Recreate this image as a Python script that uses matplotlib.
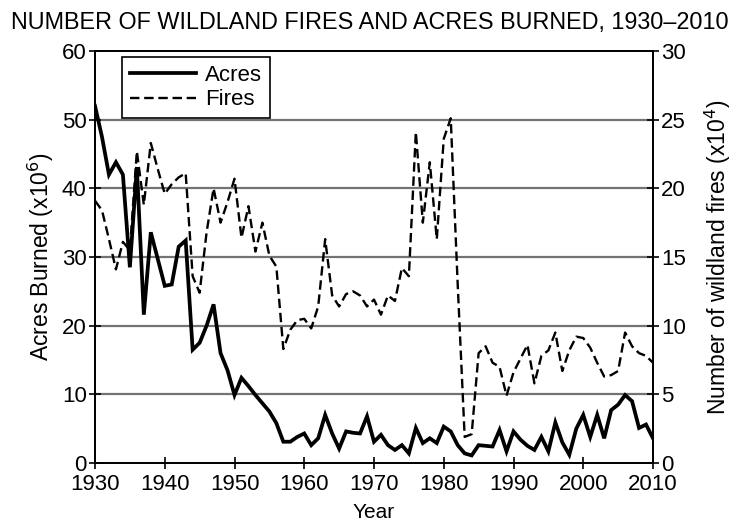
import matplotlib
matplotlib.use("Agg")
import matplotlib.pyplot as plt

plt.rcParams['font.family'] = ['Liberation Sans', 'DejaVu Sans']

years = list(range(1930, 2011))

# acres burned, millions
acres = [52.0, 47.5, 42.0, 43.8, 42.0, 28.5, 43.1, 21.6, 33.6, 29.7,
         25.8, 26.0, 31.5, 32.4, 16.5, 17.5, 20.0, 23.1, 16.0, 13.5,
         9.9, 12.4, 11.2, 9.9, 8.7, 7.5, 5.8, 3.1, 3.1, 3.8,
         4.3, 2.6, 3.6, 7.0, 4.3, 2.1, 4.6, 4.4, 4.3, 6.8,
         3.1, 4.1, 2.6, 1.9, 2.6, 1.4, 5.1, 2.9, 3.6, 2.9,
         5.3, 4.6, 2.6, 1.4, 1.1, 2.6, 2.5, 2.4, 4.8, 1.7,
         4.6, 3.4, 2.5, 1.9, 3.8, 1.7, 5.9, 3.0, 1.2, 5.0,
         7.0, 3.8, 7.0, 3.6, 7.7, 8.5, 9.9, 9.0, 5.1, 5.6,
         3.6]

# number of fires, x10^4
fires = [19.1, 18.4, 16.3, 14.1, 16.1, 15.5, 22.7, 18.8, 23.3, 21.4,
         19.6, 20.3, 20.8, 21.1, 13.6, 12.4, 16.8, 20.0, 17.5, 19.0,
         20.7, 16.4, 18.7, 15.4, 17.5, 15.1, 14.3, 8.3, 9.7, 10.4,
         10.5, 9.8, 11.4, 16.3, 12.2, 11.4, 12.3, 12.5, 12.2, 11.4,
         11.9, 10.8, 12.2, 11.8, 14.2, 13.6, 24.1, 17.5, 21.9, 16.3,
         23.6, 25.1, 13.0, 1.9, 2.1, 8.0, 8.5, 7.3, 7.0, 4.9,
         6.6, 7.6, 8.6, 5.8, 7.8, 8.2, 9.5, 6.7, 8.2, 9.2,
         9.1, 8.4, 7.3, 6.3, 6.4, 6.7, 9.5, 8.5, 8.0, 7.8,
         7.3]

fig = plt.figure(figsize=(7.4, 5.22), dpi=100)
ax = fig.add_axes([95 / 740, 1 - 463 / 522, 558 / 740, 412 / 522])
ax2 = ax.twinx()

for v in range(10, 60, 10):
    ax.axhline(v, color="0.45", lw=1.6, zorder=1)

l1, = ax.plot(years, acres, color="black", lw=2.7, solid_joinstyle="miter", zorder=3, label="Acres")
l2, = ax2.plot(years, fires, color="black", lw=1.7, dashes=(4, 2), zorder=3, label="Fires")

ax.set_xlim(1930, 2010)
ax.set_ylim(0, 60)
ax2.set_ylim(0, 30)
ax.set_xticks(range(1930, 2011, 10))
ax.set_yticks(range(0, 61, 10))
ax2.set_yticks(range(0, 31, 5))

for a in (ax, ax2):
    a.tick_params(labelsize=16, direction="inout", length=8, width=1.2, pad=2)
    for s in a.spines.values():
        s.set_linewidth(1.3)
ax.tick_params(axis="x", pad=4)

ax.set_xlabel("Year", fontsize=15, labelpad=6)
ax.set_ylabel("Acres Burned (x10$^6$)", fontsize=16.5, labelpad=4)
ax2.set_ylabel("Number of wildland fires (x10$^4$)", fontsize=16.5, labelpad=12)

leg = ax.legend(handles=[l1, l2], loc="upper left", bbox_to_anchor=(0.048, 0.985),
                borderaxespad=0, fontsize=16, frameon=True, fancybox=False,
                edgecolor="black", framealpha=1, handlelength=3.0, borderpad=0.35,
                labelspacing=0.15, handletextpad=0.4)
leg.get_frame().set_linewidth(1.2)
leg.set_zorder(5)

fig.text(0.5, 0.957, "NUMBER OF WILDLAND FIRES AND ACRES BURNED, 1930\u20132010",
         ha="center", va="center", fontsize=16.8)

fig.savefig("out.png", dpi=100)
